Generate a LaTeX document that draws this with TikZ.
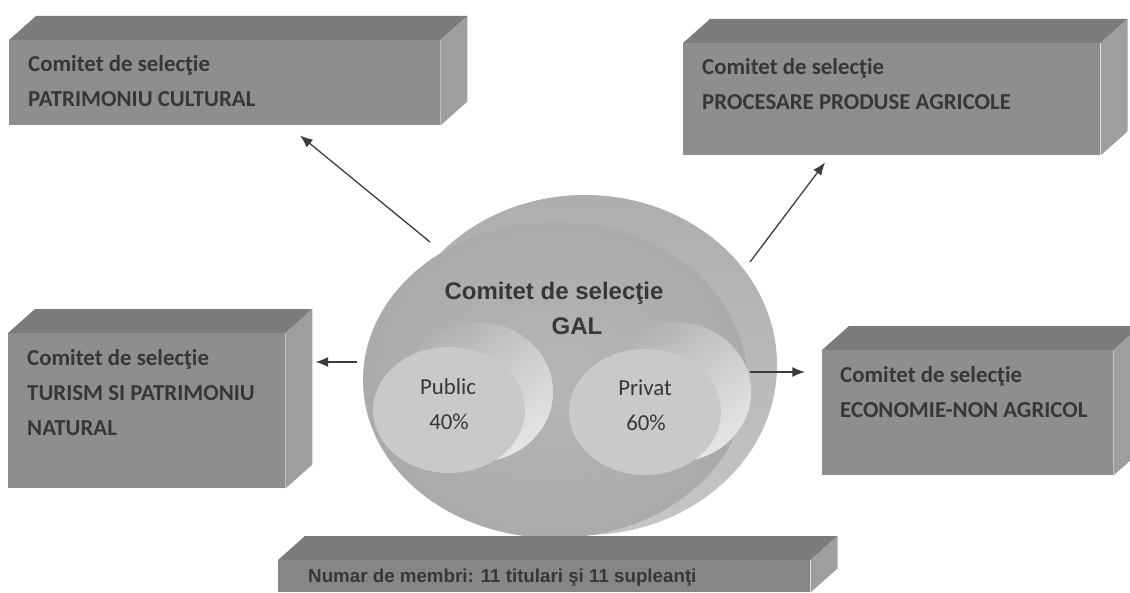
\documentclass[tikz,border=0pt]{standalone}
\usepackage{fontspec}
\setmainfont{Carlito}
\newfontfamily\arialfont{Liberation Sans}
\usepackage{tikz}
\usetikzlibrary{positioning, shapes, calc, arrows.meta, shadings}

\definecolor{frontgray}{RGB}{142,142,142}
\definecolor{topgray}{RGB}{124,124,124}
\definecolor{sidegray}{RGB}{158,158,158}
\definecolor{textgray}{RGB}{55,55,55}
\definecolor{linegray}{RGB}{60,60,60}

\begin{document}
\begin{tikzpicture}[x=0.03cm, y=-0.03cm]
\useasboundingbox (0,0) rectangle (1130,592);
\tikzstyle{face}=[fill=frontgray, draw=none, anchor=north west, inner sep=0]
\tikzstyle{boxtext}=[anchor=north west, inner sep=0, align=left, text=textgray, font=\bfseries\fontsize{19.5}{30}\selectfont]
\tikzstyle{disc}=[ellipse, inner sep=0, draw=none]
\tikzstyle{galtext}=[anchor=base, inner sep=0, text=textgray, font=\arialfont\bfseries\fontsize{20.5}{22}\selectfont]
\tikzstyle{parttext}=[anchor=base, inner sep=0, text=textgray, font=\fontsize{19.5}{21}\selectfont]
\tikzstyle{arr}=[draw=linegray, line width=1.1pt, -{Latex[length=0.38cm, width=0.3cm]}]

% comitetul GAL
\node[disc, top color=gray!64, bottom color=gray!45, minimum width=11.52cm, minimum height=10.2cm] (galback) at (585,365) {};
\node[disc, inner color=gray!58, outer color=gray!66, minimum width=11.52cm, minimum height=9.48cm] (gal) at (555,380) {};

\node[disc, upper left=gray!72, upper right=gray!42, lower left=gray!30, lower right=gray!14, minimum width=4.56cm, minimum height=4.2cm] (pubback) at (477,392) {};
\node[disc, fill=gray!42, minimum width=4.56cm, minimum height=3.78cm] (pub) at (449,410) {};
\node[disc, upper left=gray!72, upper right=gray!42, lower left=gray!30, lower right=gray!14, minimum width=4.56cm, minimum height=4.2cm] (privback) at (675,392) {};
\node[disc, fill=gray!42, minimum width=4.56cm, minimum height=3.78cm] (priv) at (645,412) {};

\node[galtext] (galname) at (554,299) {Comitet de selecţie};
\node[galtext] (galabbr) at (577,334) {GAL};
\node[parttext] (pubname) at (448,394) {Public};
\node[parttext] (pubpct) at (449,429) {40\%};
\node[parttext] (privname) at (645,395) {Privat};
\node[parttext] (privpct) at (646,430) {60\%};

% comitetele pe masuri
\node[face, minimum width=12.93cm, minimum height=2.55cm] (b1) at (9,40) {};
\node[face, minimum width=12.51cm, minimum height=3.36cm] (b2) at (683,43) {};
\node[face, minimum width=8.31cm, minimum height=4.65cm] (b3) at (8,333) {};
\node[face, minimum width=8.73cm, minimum height=3.75cm] (b4) at (822,350) {};
\node[face, fill=gray!105!black, minimum width=15.96cm, minimum height=0.96cm] (b5) at (278,560) {};

\foreach \b in {b1,b2,b3,b4,b5} {
	\fill[topgray] (\b.north west) -- ++(27,-24) -- ([shift={(27,-24)}]\b.north east) -- (\b.north east) -- cycle;
	\fill[sidegray] (\b.north east) -- ++(27,-24) -- ([shift={(27,-24)}]\b.south east) -- (\b.south east) -- cycle;
}

\node[boxtext] (t1) at ($(b1.north west)+(19,15)$) {Comitet de selecţie\\PATRIMONIU CULTURAL};
\node[boxtext] (t2) at ($(b2.north west)+(19,15)$) {Comitet de selecţie\\PROCESARE PRODUSE AGRICOLE};
\node[boxtext] (t3) at ($(b3.north west)+(19,16)$) {Comitet de selecţie\\TURISM SI PATRIMONIU\\NATURAL};
\node[boxtext] (t4) at ($(b4.north west)+(18,16)$) {Comitet de selecţie\\ECONOMIE-NON AGRICOL};
\node[anchor=base west, inner sep=0, text=textgray, font=\arialfont\bfseries\fontsize{16}{18}\selectfont] (t5) at ($(b5.north west)+(30,22)$) {Numar de membri: 11 titulari şi 11 supleanţi};

% sageti
\coordinate (a1) at (430,242);
\coordinate (a2) at (750,262);
\coordinate (a3) at (357,362);
\coordinate (a4) at (750,372);
\draw[arr] (a1) -- ($(b1.south west)+(291,10)$);
\draw[arr] (a2) -- ($(b2.south west)+(142,7)$);
\draw[arr] (a3) -- ($(b3.north east)+(30,29)$);
\draw[arr] (a4) -- ($(b4.north west)+(-17,22)$);

\end{tikzpicture}
\end{document}
